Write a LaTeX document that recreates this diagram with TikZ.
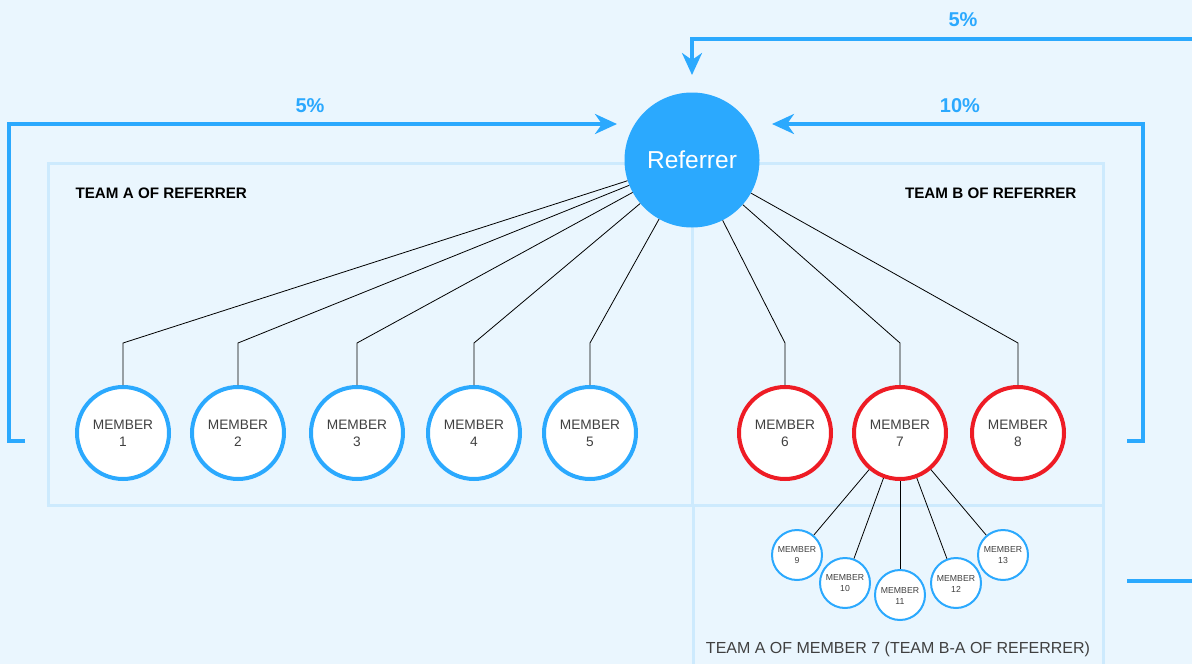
\documentclass[tikz,border=0pt]{standalone}
\usepackage{fontspec}
\setmainfont{Liberation Sans}
\usetikzlibrary{arrows.meta}

\definecolor{bgblue}{HTML}{EAF6FE}
\definecolor{boxblue}{HTML}{CDEAFD}
\definecolor{refblue}{HTML}{2BA9FE}
\definecolor{memred}{HTML}{EE1C25}
\definecolor{memtext}{HTML}{404040}

\tikzset{
  member/.style={circle, draw=refblue, fill=white, line width=4pt, minimum size=92pt, inner sep=0pt, align=center, text=memtext, font=\fontsize{13.7}{17}\selectfont, execute at begin node={\rule{0pt}{18pt}}},
  redmember/.style={member, draw=memred},
  submember/.style={member, line width=2pt, minimum size=50pt, font=\fontsize{8.7}{11}\selectfont, execute at begin node={}},
  teambox/.style={draw=boxblue, line width=3pt},
  payline/.style={draw=refblue, line width=3.5pt, -{Stealth[length=22pt, width=20pt, inset=7pt]}},
  link/.style={draw=black, line width=0.8pt},
  percent/.style={text=refblue, font=\fontsize{20}{24}\selectfont\bfseries},
  teamlabel/.style={text=black, font=\fontsize{15.2}{18}\selectfont\bfseries}
}

\begin{document}
\begin{tikzpicture}[x=1pt, y=-1pt]
  % Background and team boxes
  \fill[bgblue] (0,0) rectangle (1192,664);
  \useasboundingbox (0,0) rectangle (1192,664);
  \draw[teambox] (48,163) rectangle (692,505);
  \draw[teambox] (692,163) rectangle (1103,505);
  \draw[teambox] (693,505) -- (693,670) (1103,505) -- (1103,670);

  % Nodes
  \node[circle, fill=refblue, text=white, minimum size=135pt, inner sep=0pt, font=\fontsize{24.5}{28}\selectfont] (ref) at (692,160) {Referrer};

  \node[member] (m1) at (123,433) {MEMBER\\1};
  \node[member] (m2) at (238,433) {MEMBER\\2};
  \node[member] (m3) at (357,433) {MEMBER\\3};
  \node[member] (m4) at (474,433) {MEMBER\\4};
  \node[member] (m5) at (590,433) {MEMBER\\5};
  \node[redmember] (m6) at (785,433) {MEMBER\\6};
  \node[redmember] (m7) at (900,433) {MEMBER\\7};
  \node[redmember] (m8) at (1018,433) {MEMBER\\8};

  \node[submember] (m9) at (797,555) {MEMBER\\9};
  \node[submember] (m10) at (845,583) {MEMBER\\10};
  \node[submember] (m11) at (900,595) {MEMBER\\11};
  \node[submember] (m12) at (956,583) {MEMBER\\12};
  \node[submember] (m13) at (1003,555) {MEMBER\\13};

  \node[teamlabel, anchor=west] (teamA) at (72,193) {TEAM A OF REFERRER};
  \node[teamlabel, anchor=east] (teamB) at (1080,193) {TEAM B OF REFERRER};
  \node[text=memtext, anchor=base, font=\fontsize{16}{19}\selectfont] (teamBA) at (898,653) {TEAM A OF MEMBER 7 (TEAM B-A OF REFERRER)};

  \node[percent] (payA) at (310,106) {5\%};
  \node[percent] (payB) at (960,106) {10\%};
  \node[percent] (payBA) at (963,20) {5\%};

  % Links
  \coordinate (bend) at (0,343);
  \draw[link] (ref) -- (m1 |- bend) -- (m1);
  \draw[link] (ref) -- (m2 |- bend) -- (m2);
  \draw[link] (ref) -- (m3 |- bend) -- (m3);
  \draw[link] (ref) -- (m4 |- bend) -- (m4);
  \draw[link] (ref) -- (m5 |- bend) -- (m5);
  \draw[link] (ref) -- (m6 |- bend) -- (m6);
  \draw[link] (ref) -- (m7 |- bend) -- (m7);
  \draw[link] (ref) -- (m8 |- bend) -- (m8);

  \draw[link] (m7) -- (m9);
  \draw[link] (m7) -- (m10);
  \draw[link] (m7) -- (m11);
  \draw[link] (m7) -- (m12);
  \draw[link] (m7) -- (m13);

  % Arrows
  \coordinate (startA) at (25,441);
  \coordinate (tipA) at (617,124);
  \coordinate (startB) at (1127,441);
  \coordinate (tipB) at (772,124);
  \coordinate (startBA) at (1192,39);
  \coordinate (tipBA) at (692,75);
  \coordinate (stubL) at (1127,581);
  \coordinate (stubR) at (1192,581);

  \draw[payline] (startA) -- (9,441) -- (9,124) -- (tipA);
  \draw[payline] (startB) -- (1143,441) -- (1143,124) -- (tipB);
  \draw[payline] (startBA) -- (692,39) -- (tipBA);
  \draw[draw=refblue, line width=3.5pt] (stubL) -- (stubR);

\end{tikzpicture}
\end{document}
